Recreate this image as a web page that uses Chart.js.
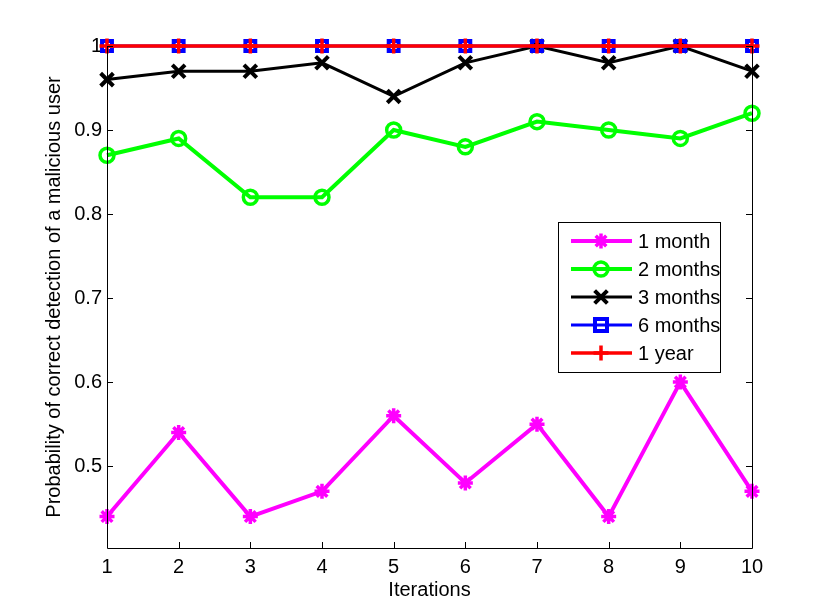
<!DOCTYPE html>
<html>
<head>
<meta charset="utf-8">
<script src="https://cdn.jsdelivr.net/npm/chart.js@4"></script>
<style>
  html, body { margin: 0; padding: 0; background: #fff; }
  #wrap { width: 830px; height: 616px; }
</style>
</head>
<body>
<div id="wrap"><canvas id="chart"></canvas></div>
<script>
// values
const iterations = [1, 2, 3, 4, 5, 6, 7, 8, 9, 10];
const oneMonth = [0.44, 0.54, 0.44, 0.47, 0.56, 0.48, 0.55, 0.44, 0.60, 0.47];
const twoMonths = [0.87, 0.89, 0.82, 0.82, 0.90, 0.88, 0.91, 0.90, 0.89, 0.92];
const threeMonths = [0.96, 0.97, 0.97, 0.98, 0.94, 0.98, 1.00, 0.98, 1.00, 0.97];
const sixMonths = [1, 1, 1, 1, 1, 1, 1, 1, 1, 1];
const oneYear = [1, 1, 1, 1, 1, 1, 1, 1, 1, 1];
const yTicks = [0.5, 0.6, 0.7, 0.8, 0.9, 1];

const FONT = 'Liberation Sans, Arial, Helvetica, sans-serif';

const series = (label, data, color, style, radius, width, pointWidth, fill, order) => ({
  label: label,
  data: iterations.map((x, i) => ({ x: x, y: data[i] })),
  borderColor: color,
  backgroundColor: color,
  borderWidth: width,
  pointStyle: style,
  pointRadius: radius,
  pointBorderColor: color,
  pointBackgroundColor: fill,
  pointBorderWidth: pointWidth,
  tension: 0,
  clip: false,
  order: order
});

// MATLAB-like axes box, inward ticks and the legend inside the plot
const matlabPlugin = {
  id: 'matlab',
  afterDatasetsDraw(chart) {
    const ctx = chart.ctx;
    const a = chart.chartArea;
    const xs = chart.scales.x, ys = chart.scales.y;
    ctx.save();
    ctx.strokeStyle = '#000';
    ctx.lineWidth = 1;
    ctx.beginPath();
    ctx.moveTo(a.left + 0.5, a.top);
    ctx.lineTo(a.left + 0.5, a.bottom + 0.5);
    ctx.lineTo(a.right + 0.5, a.bottom + 0.5);
    ctx.lineTo(a.right + 0.5, a.top);
    ctx.stroke();
    ctx.beginPath();
    iterations.forEach(v => {
      const px = Math.round(xs.getPixelForValue(v)) + 0.5;
      ctx.moveTo(px, a.bottom); ctx.lineTo(px, a.bottom - 6);
    });
    yTicks.forEach(v => {
      const py = Math.round(ys.getPixelForValue(v)) + 0.5;
      ctx.moveTo(a.left, py); ctx.lineTo(a.left + 6, py);
      ctx.moveTo(a.right, py); ctx.lineTo(a.right - 6, py);
    });
    ctx.stroke();

    // legend
    const lx = 558, ly = 222, lw = 162, lh = 150;
    ctx.fillStyle = '#fff';
    ctx.fillRect(lx, ly, lw, lh);
    ctx.strokeStyle = '#000';
    ctx.lineWidth = 1;
    ctx.strokeRect(lx + 0.5, ly + 0.5, lw, lh);
    chart.data.datasets.forEach((ds, i) => {
      const cy = ly + 19 + i * 28;
      ctx.strokeStyle = ds.borderColor;
      ctx.lineWidth = ds.borderWidth;
      ctx.beginPath();
      ctx.moveTo(lx + 13, cy); ctx.lineTo(lx + 74, cy);
      ctx.stroke();
      ctx.fillStyle = ds.pointBackgroundColor;
      ctx.strokeStyle = ds.pointBorderColor;
      ctx.lineWidth = ds.pointBorderWidth;
      Chart.helpers.drawPoint(ctx, {
        pointStyle: ds.pointStyle,
        radius: ds.pointStyle === 'rect' ? 8.5 : ds.pointRadius,
        borderWidth: ds.pointBorderWidth,
        rotation: 0
      }, lx + 43, cy);
      ctx.fillStyle = '#000';
      ctx.font = '20px ' + FONT;
      ctx.textBaseline = 'middle';
      ctx.fillText(ds.label, lx + 80, cy + 1);
    });
    ctx.restore();
  }
};

new Chart(document.getElementById('chart'), {
  type: 'line',
  data: {
    datasets: [
      series('1 month', oneMonth, '#ff00ff', 'star', 7.5, 4, 3.5, '#ff00ff', 5),
      series('2 months', twoMonths, '#00ff00', 'circle', 7, 4, 3.5, 'rgba(0,0,0,0)', 4),
      series('3 months', threeMonths, '#000000', 'crossRot', 9, 3, 4, '#000000', 3),
      series('6 months', sixMonths, '#0000ff', 'rect', 7, 3, 4, 'rgba(0,0,0,0)', 2),
      series('1 year', oneYear, '#ff0000', 'cross', 7.5, 3.5, 3.5, '#ff0000', 1)
    ]
  },
  options: {
    responsive: true,
    maintainAspectRatio: false,
    animation: false,
    devicePixelRatio: 1,
    layout: { padding: { left: 38, right: 78, top: 46, bottom: 10 } },
    plugins: { legend: { display: false }, tooltip: { enabled: false } },
    scales: {
      x: {
        type: 'linear',
        min: 1,
        max: 10,
        afterBuildTicks: s => { s.ticks = iterations.map(v => ({ value: v })); },
        afterFit: s => { s.height = 58; },
        grid: { display: false, drawTicks: false },
        border: { display: false },
        ticks: { color: '#000', font: { family: FONT, size: 20 }, padding: 7 },
        title: { display: true, text: 'Iterations', color: '#000', font: { family: FONT, size: 20 }, padding: { top: 0, bottom: 4 } }
      },
      y: {
        min: 0.4026,
        max: 1,
        afterBuildTicks: s => { s.ticks = yTicks.map(v => ({ value: v })); },
        afterFit: s => { s.width = 69; },
        grid: { display: false, drawTicks: false },
        border: { display: false },
        ticks: {
          color: '#000', font: { family: FONT, size: 20 }, padding: 5,
          callback: v => String(Math.round(v * 10) / 10)
        },
        title: { display: true, text: 'Probability of correct detection of a malicious user', color: '#000', font: { family: FONT, size: 20 }, padding: { top: 4, bottom: 0 } }
      }
    }
  },
  plugins: [matlabPlugin]
});
</script>
</body>
</html>
